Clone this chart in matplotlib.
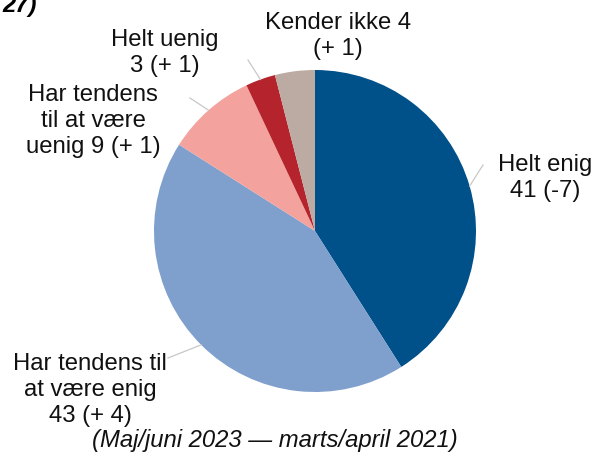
import numpy as np
import matplotlib.pyplot as plt

plt.rcParams["font.family"] = ["Liberation Sans", "DejaVu Sans"]

# survey shares (per cent) and change since last round
categories = ["Helt enig", "Har tendens til at være enig",
              "Har tendens til at være uenig", "Helt uenig", "Kender ikke"]
values = [41, 43, 9, 3, 4]
changes = ["-7", "+ 4", "+ 1", "+ 1", "+ 1"]
colors = ["#00508A", "#7F9FCC", "#F4A29E", "#B5232C", "#BBABA2"]

label_text = [
    "Helt enig\n{v} ({c})",
    "Har tendens til\nat være enig\n{v} ({c})",
    "Har tendens\ntil at være\nuenig {v} ({c})",
    "Helt uenig\n{v} ({c})",
    "Kender ikke {v}\n({c})",
]
# label centres and leader-line ends, pixel coords from top-left
label_pos = [(545, 178), (90, 390), (93, 121), (165, 53), (338, 36)]
line_end = [(483, 165), (168, 358), (190, 98), (248, 60), None]

W, H = 595, 454
fig = plt.figure(figsize=(W / 100, H / 100), dpi=100)
ax = fig.add_axes([0, 0, 1, 1])

cx, cy, r = 315, H - 231, 161
wedges, _ = ax.pie(values, colors=colors, startangle=90, counterclock=False,
                   center=(cx, cy), radius=r, frame=True,
                   wedgeprops=dict(linewidth=0))
ax.set_xlim(0, W)
ax.set_ylim(0, H)
ax.axis("off")

fs = 17.2
for i, w in enumerate(wedges):
    mid = np.deg2rad((w.theta1 + w.theta2) / 2)
    ex, ey = cx + r * np.cos(mid), cy + r * np.sin(mid)
    if line_end[i] is not None:
        lx, ly = line_end[i]
        ax.plot([ex, lx], [ey, H - ly], color="#C8C8C8", lw=0.9)
    tx, ty = label_pos[i]
    ax.text(tx, H - ty, label_text[i].format(v=values[i], c=changes[i]),
            ha="center", va="center", multialignment="center",
            fontsize=fs, linespacing=1.22, color="#111111")

ax.text(275, H - 440, "(Maj/juni 2023 \u2014 marts/april 2021)",
        ha="center", va="center", fontsize=fs, style="italic", color="#111111")
fig.text(2 / W, 1 - 12 / H, "27)", ha="left", va="baseline",
         fontsize=fs, weight="bold", style="italic")

fig.savefig("out.png", dpi=100)
